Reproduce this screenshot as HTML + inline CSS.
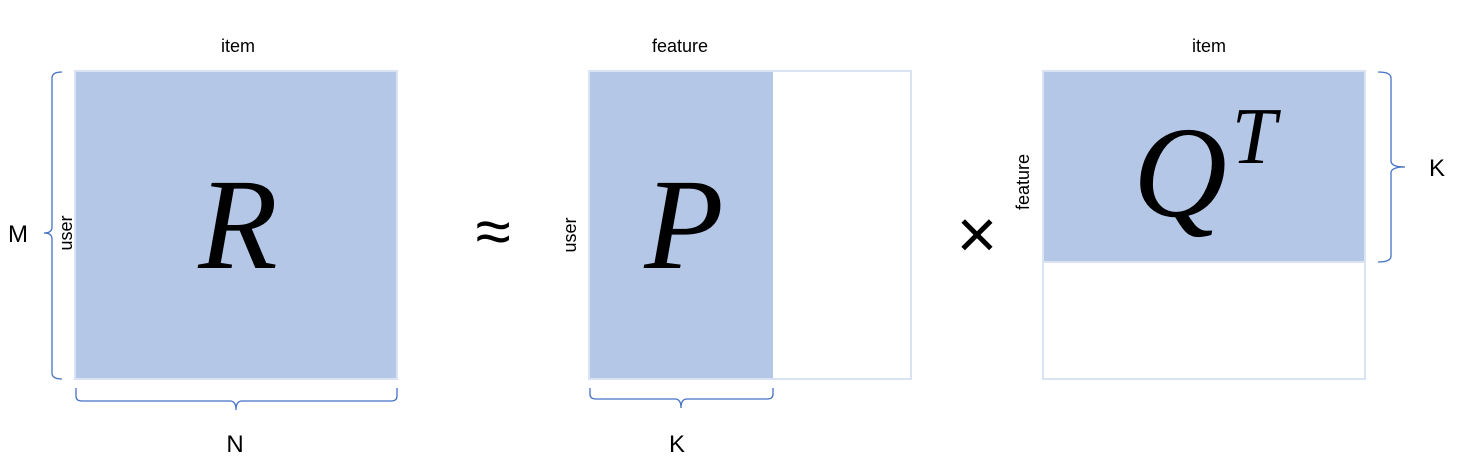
<!DOCTYPE html>
<html><head><meta charset="utf-8"><style>
html,body{margin:0;padding:0;background:#fff;}
svg{display:block;font-family:"Liberation Sans","DejaVu Sans",sans-serif;}
.m{font-family:"Liberation Serif",serif;font-style:italic;}
</style></head><body>
<svg width="1465" height="476" viewBox="0 0 1465 476">
<g>
<rect x="75" y="71" width="322" height="308" fill="#b4c7e7" stroke="#dae3f3" stroke-width="2"/>
<text x="238" y="268" font-size="130" text-anchor="middle" class="m">R</text>
</g>
<text x="238" y="52" font-size="18" text-anchor="middle">item</text>
<text transform="translate(72,233) rotate(-90)" font-size="18" text-anchor="middle">user</text>
<path d="M62,72 Q52,72 52,78 L52,227 Q52,233 44,233 Q52,233 52,239 L52,373 Q52,379 62,379" fill="none" stroke="#4472c4" stroke-width="1.3"/>
<text x="18" y="242" font-size="24" text-anchor="middle">M</text>
<path d="M76,388 L76,396 Q76,401 82,401 L230,401 Q236,401 236,410 Q236,401 242,401 L391,401 Q397,401 397,396 L397,388" fill="none" stroke="#4472c4" stroke-width="1.3"/>
<text x="235" y="452" font-size="24" text-anchor="middle">N</text>
<text x="493" y="253" font-size="64" text-anchor="middle">≈</text>
<g>
<rect x="589" y="71" width="322" height="308" fill="#fff" stroke="#dae3f3" stroke-width="2"/>
<rect x="590" y="72" width="183" height="306" fill="#b4c7e7"/>
<text x="684" y="268" font-size="130" text-anchor="middle" class="m">P</text>
</g>
<text x="680" y="52" font-size="18" text-anchor="middle">feature</text>
<text transform="translate(576,235) rotate(-90)" font-size="18" text-anchor="middle">user</text>
<path d="M590,388 L590,394 Q590,399 596,399 L675,399 Q681,399 681,408 Q681,399 687,399 L767,399 Q773,399 773,394 L773,388" fill="none" stroke="#4472c4" stroke-width="1.3"/>
<text x="677" y="452" font-size="24" text-anchor="middle">K</text>
<text x="977" y="258" font-size="70" text-anchor="middle">×</text>
<g>
<rect x="1043" y="71" width="322" height="308" fill="#fff" stroke="#dae3f3" stroke-width="2"/>
<rect x="1044" y="72" width="320" height="190" fill="#b4c7e7"/>
<line x1="1043" y1="262" x2="1365" y2="262" stroke="#dae3f3" stroke-width="2"/>
<text x="1180" y="216" font-size="130" text-anchor="middle" class="m">Q</text>
<text x="1254" y="163" font-size="80" text-anchor="middle" class="m">T</text>
</g>
<text x="1209" y="52" font-size="18" text-anchor="middle">item</text>
<text transform="translate(1029,182) rotate(-90)" font-size="18" text-anchor="middle">feature</text>
<path d="M1378,72 Q1391,72 1391,78 L1391,161 Q1391,167 1405,167 Q1391,167 1391,173 L1391,256 Q1391,262 1378,262" fill="none" stroke="#4472c4" stroke-width="1.3"/>
<text x="1437" y="176" font-size="24" text-anchor="middle">K</text>
</svg>
</body></html>
